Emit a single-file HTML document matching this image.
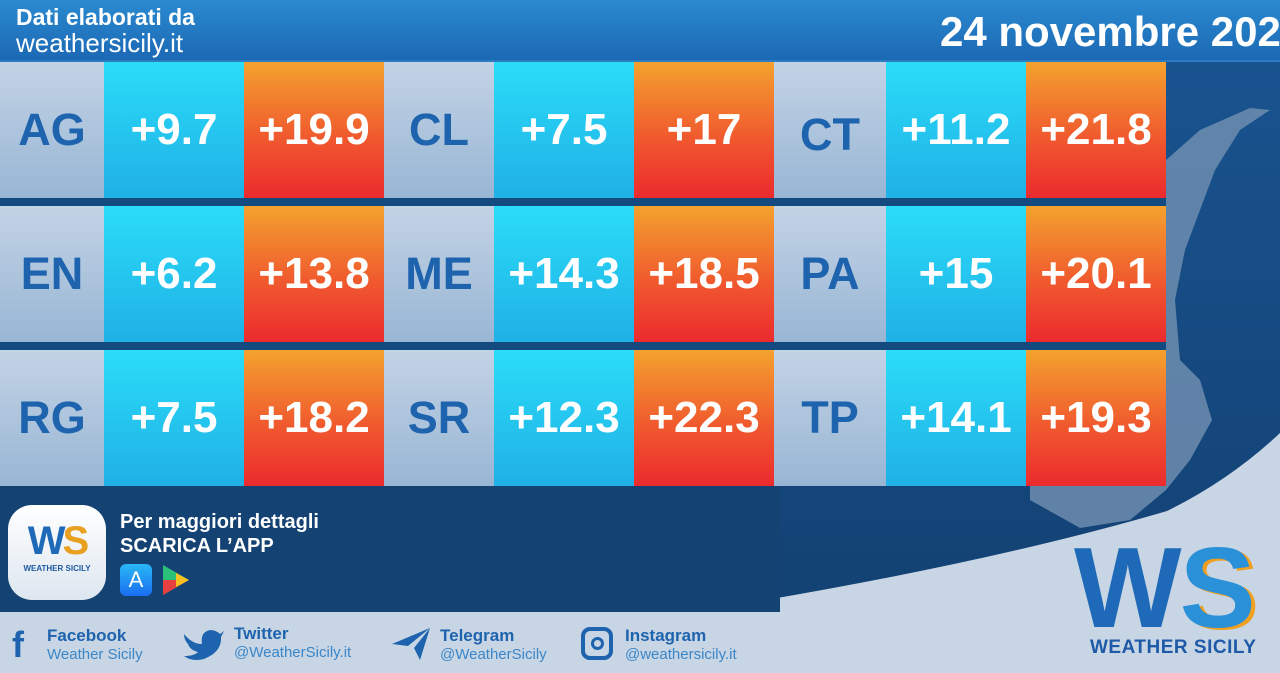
<!DOCTYPE html>
<html><head><meta charset="utf-8"><style>
*{margin:0;padding:0;box-sizing:border-box}
body{width:1280px;height:673px;overflow:hidden;position:relative;font-family:"Liberation Sans",sans-serif;background:#154a80}
.hdr{position:absolute;left:0;top:0;width:1280px;height:62px;background:linear-gradient(#2a8ad0,#1c68b4);border-bottom:2px solid #2b7cc0;overflow:hidden}
.t1{position:absolute;left:16px;top:4px;color:#fff;font-weight:bold;font-size:23px}
.t2{position:absolute;left:16px;top:28px;color:#fff;font-size:26px}
.date{position:absolute;left:940px;top:8px;color:#fff;font-weight:bold;font-size:42px;white-space:nowrap}
.cell{position:absolute;height:136px;display:flex;align-items:center;justify-content:center;font-weight:bold;font-size:44px;color:#fff}
.c{background:linear-gradient(#c3d3e6,#98b6d4);color:#1e63ad;font-size:45px}
.mn{background:linear-gradient(#2adcf8,#20b0e6)}
.mx{background:linear-gradient(#f4a22e,#f05a2e 55%,#ec2a2e)}
.bar{position:absolute;left:0;width:1166px;height:8px;background:#134a80}
</style></head><body>
<svg style="position:absolute;left:0;top:0" width="1280" height="673">
<defs><linearGradient id="bg" x1="0" y1="0" x2="0" y2="1"><stop offset="0" stop-color="#1a5592"/><stop offset="1" stop-color="#123f70"/></linearGradient></defs>
<rect width="1280" height="673" fill="url(#bg)"/>
<path d="M1166 160 L1200 130 L1250 108 L1270 110 L1240 130 L1215 170 L1200 210 L1185 250 L1175 300 L1180 360 L1200 380 L1212 420 L1190 460 L1166 490 L1130 520 L1080 528 L1030 500 L1030 486 L1166 486 Z" fill="#6d8daf" opacity="0.85"/>
<path d="M0 612 L760 601 Q1000 560 1167 511 Q1230 480 1280 433 V673 H0 Z" fill="#c8d5e4"/>
<rect x="0" y="486" width="780" height="126" fill="#134273"/>
</svg>
<div class="hdr"><div class="t1">Dati elaborati da</div><div class="t2">weathersicily.it</div><div class="date">24 novembre 2023</div></div>

<div class="cell c" style="left:0;top:62px;width:104px">AG</div>
<div class="cell mn" style="left:104px;top:62px;width:140px">+9.7</div>
<div class="cell mx" style="left:244px;top:62px;width:140px">+19.9</div>
<div class="cell c" style="left:384px;top:62px;width:110px">CL</div>
<div class="cell mn" style="left:494px;top:62px;width:140px">+7.5</div>
<div class="cell mx" style="left:634px;top:62px;width:140px">+17</div>
<div class="cell c" style="left:774px;top:62px;width:112px;padding-top:10px">CT</div>
<div class="cell mn" style="left:886px;top:62px;width:140px">+11.2</div>
<div class="cell mx" style="left:1026px;top:62px;width:140px">+21.8</div>
<div class="bar" style="top:198px"></div>
<div class="cell c" style="left:0;top:206px;width:104px">EN</div>
<div class="cell mn" style="left:104px;top:206px;width:140px">+6.2</div>
<div class="cell mx" style="left:244px;top:206px;width:140px">+13.8</div>
<div class="cell c" style="left:384px;top:206px;width:110px">ME</div>
<div class="cell mn" style="left:494px;top:206px;width:140px">+14.3</div>
<div class="cell mx" style="left:634px;top:206px;width:140px">+18.5</div>
<div class="cell c" style="left:774px;top:206px;width:112px">PA</div>
<div class="cell mn" style="left:886px;top:206px;width:140px">+15</div>
<div class="cell mx" style="left:1026px;top:206px;width:140px">+20.1</div>
<div class="bar" style="top:342px"></div>
<div class="cell c" style="left:0;top:350px;width:104px">RG</div>
<div class="cell mn" style="left:104px;top:350px;width:140px">+7.5</div>
<div class="cell mx" style="left:244px;top:350px;width:140px">+18.2</div>
<div class="cell c" style="left:384px;top:350px;width:110px">SR</div>
<div class="cell mn" style="left:494px;top:350px;width:140px">+12.3</div>
<div class="cell mx" style="left:634px;top:350px;width:140px">+22.3</div>
<div class="cell c" style="left:774px;top:350px;width:112px">TP</div>
<div class="cell mn" style="left:886px;top:350px;width:140px">+14.1</div>
<div class="cell mx" style="left:1026px;top:350px;width:140px">+19.3</div>

<div style="position:absolute;left:8px;top:505px;width:98px;height:95px;border-radius:24px;background:linear-gradient(#fff,#dde6f0);text-align:center">
<div style="font-weight:bold;font-size:40px;color:#1e6ab8;margin-top:14px;letter-spacing:-3px">W<span style="color:#e8a020">S</span></div>
<div style="font-weight:bold;font-size:8px;color:#1e5aa0">WEATHER SICILY</div></div>
<div style="position:absolute;left:120px;top:510px;color:#fff;font-weight:bold;font-size:20px;line-height:24px">Per maggiori dettagli<br>SCARICA L’APP</div>
<div style="position:absolute;left:120px;top:564px;width:32px;height:32px;border-radius:6px;background:linear-gradient(#29b8f6,#1a6ef0);color:#fff;font-size:22px;text-align:center;line-height:32px">A</div>
<svg style="position:absolute;left:160px;top:564px" width="32" height="32"><path d="M3 1 L29 16 L3 31 Z" fill="#2ac07a"/><path d="M3 16 L29 16 L3 31Z" fill="#e84040"/><path d="M16 9 L29 16 L16 23Z" fill="#f8c020"/></svg>

<div style="position:absolute;left:1074px;top:532px;font-weight:bold;font-size:114px;color:#1e6ab8;letter-spacing:-2px;line-height:114px">W<span style="color:#2a90d8;text-shadow:4px 2px 0 #f0a020">S</span></div>
<div style="position:absolute;left:1090px;top:637px;font-weight:bold;font-size:19px;color:#1e5aa8;letter-spacing:0.5px">WEATHER SICILY</div>

<div style="position:absolute;left:12px;top:627px;font-weight:bold;font-size:36px;color:#1e63ad;line-height:36px">f</div>
<div style="position:absolute;left:47px;top:626px;color:#1e63ad;font-weight:bold;font-size:17px">Facebook</div>
<div style="position:absolute;left:47px;top:646px;color:#3a86c8;font-size:15px">Weather Sicily</div>
<svg style="position:absolute;left:182px;top:626px" width="42" height="36"><path d="M2 8 Q10 18 20 18 Q18 6 28 4 Q34 4 38 8 L42 5 L39 11 Q40 26 22 33 Q10 36 2 30 Q12 30 16 26 Q8 24 6 18 Q2 14 2 8Z" fill="#1e63ad"/></svg>
<div style="position:absolute;left:234px;top:624px;color:#1e63ad;font-weight:bold;font-size:17px">Twitter</div>
<div style="position:absolute;left:234px;top:644px;color:#3a86c8;font-size:15px">@WeatherSicily.it</div>
<svg style="position:absolute;left:390px;top:626px" width="42" height="36"><path d="M2 18 L40 2 L30 34 L24 22 L40 2 L18 20Z" fill="#1e63ad"/></svg>
<div style="position:absolute;left:440px;top:626px;color:#1e63ad;font-weight:bold;font-size:17px">Telegram</div>
<div style="position:absolute;left:440px;top:646px;color:#3a86c8;font-size:15px">@WeatherSicily</div>
<div style="position:absolute;left:581px;top:627px;width:32px;height:33px;border:4px solid #1e63ad;border-radius:9px"><div style="position:absolute;left:6px;top:6px;width:13px;height:13px;border:3px solid #1e63ad;border-radius:50%"></div></div>
<div style="position:absolute;left:625px;top:626px;color:#1e63ad;font-weight:bold;font-size:17px">Instagram</div>
<div style="position:absolute;left:625px;top:646px;color:#3a86c8;font-size:15px">@weathersicily.it</div>
</body></html>
